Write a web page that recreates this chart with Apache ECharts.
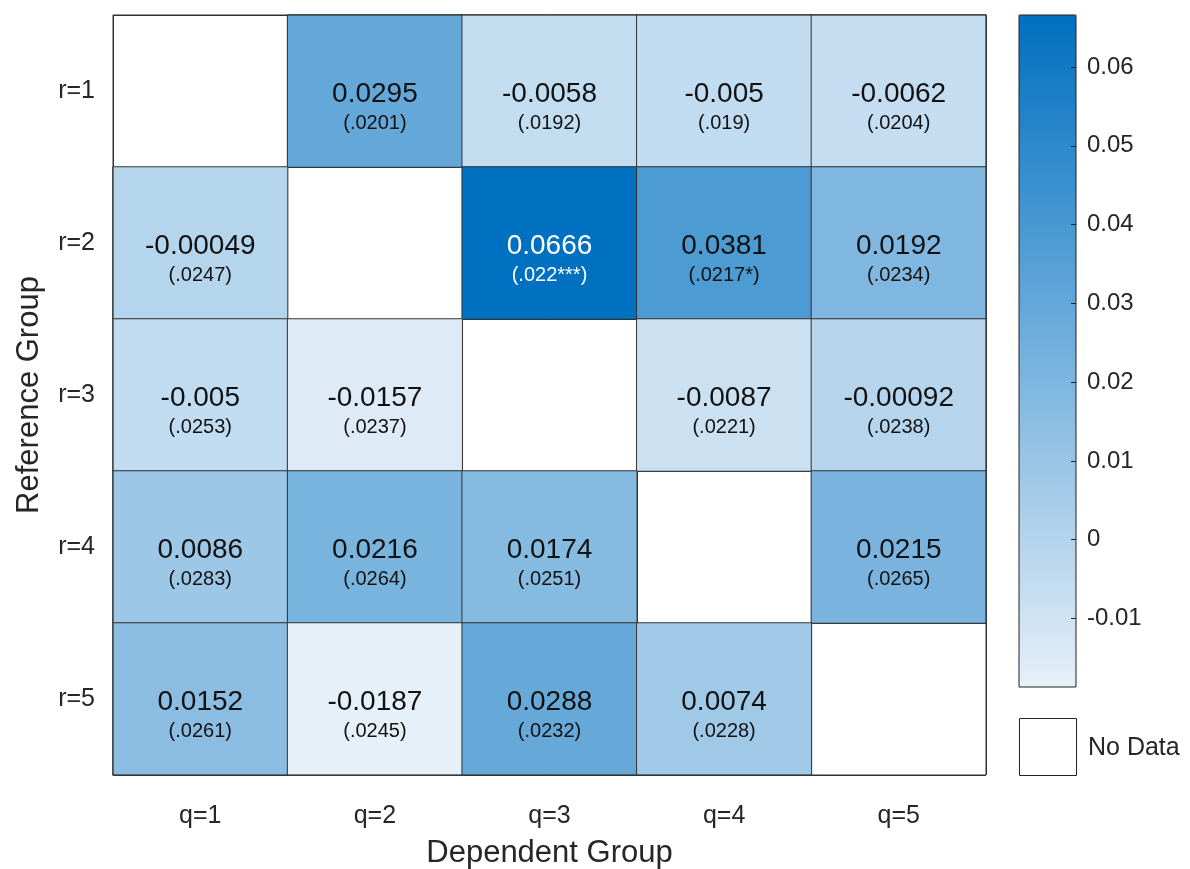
<!DOCTYPE html>
<html>
<head>
<meta charset="utf-8">
<title>Reference vs Dependent Group</title>
<script src="https://cdn.jsdelivr.net/npm/echarts@6/dist/echarts.min.js"></script>
<style>
  html, body { margin: 0; padding: 0; background: #fff; }
  #chart { width: 1190px; height: 869px; }
</style>
</head>
<body>
<div id="chart"></div>
<script>
// categories
const qLabels = ['q=1', 'q=2', 'q=3', 'q=4', 'q=5'];
const rLabels = ['r=1', 'r=2', 'r=3', 'r=4', 'r=5'];

// estimates, one array per reference group (null = no data on the diagonal)
const r1Est = [null, 0.0295, -0.0058, -0.005, -0.0062];
const r2Est = [-0.00049, null, 0.0666, 0.0381, 0.0192];
const r3Est = [-0.005, -0.0157, null, -0.0087, -0.00092];
const r4Est = [0.0086, 0.0216, 0.0174, null, 0.0215];
const r5Est = [0.0152, -0.0187, 0.0288, 0.0074, null];

// standard errors with significance stars, as printed
const r1Se = [null, '(.0201)', '(.0192)', '(.019)', '(.0204)'];
const r2Se = ['(.0247)', null, '(.022***)', '(.0217*)', '(.0234)'];
const r3Se = ['(.0253)', '(.0237)', null, '(.0221)', '(.0238)'];
const r4Se = ['(.0283)', '(.0264)', '(.0251)', null, '(.0265)'];
const r5Se = ['(.0261)', '(.0245)', '(.0232)', '(.0228)', null];

// colorbar range and tick labels
const colorMin = -0.0187;
const colorMax = 0.0666;
const cbTicks = [-0.01, 0, 0.01, 0.02, 0.03, 0.04, 0.05, 0.06];

const estRows = [r1Est, r2Est, r3Est, r4Est, r5Est];
const seRows = [r1Se, r2Se, r3Se, r4Se, r5Se];

const FONT = 'Liberation Sans, Arial, sans-serif';
const TXT = '#262626';

const cells = [];
estRows.forEach((row, ri) => {
  row.forEach((v, qi) => {
    if (v === null) return;
    cells.push({ value: [qi, ri, v], se: seRows[ri][qi] });
  });
});

const chart = echarts.init(document.getElementById('chart'));

chart.setOption({
  animation: false,
  backgroundColor: '#fff',
  grid: [
    { left: 113, top: 15, width: 873, height: 760, show: true, borderColor: '#333', borderWidth: 1, z: 3,
      outerBoundsMode: 'none', containLabel: false },
    { left: 1019, top: 15, width: 57, height: 672, show: true, borderColor: '#222', borderWidth: 1,
      backgroundColor: 'transparent', z: 10, outerBoundsMode: 'none', containLabel: false }
  ],
  xAxis: [
    {
      type: 'category', gridIndex: 0, data: qLabels,
      axisLine: { show: false }, axisTick: { show: false },
      splitLine: { show: true, interval: 0, lineStyle: { color: '#333', width: 1 } },
      axisLabel: { margin: 29, fontSize: 25, color: TXT, fontFamily: FONT },
      name: 'Dependent Group', nameLocation: 'middle', nameGap: 63,
      nameTextStyle: { fontSize: 31, color: TXT, fontFamily: FONT }
    },
    { type: 'value', gridIndex: 1, show: false, min: 0, max: 1, axisLine: { onZero: false } }
  ],
  yAxis: [
    {
      type: 'category', gridIndex: 0, data: rLabels, inverse: true,
      axisLine: { show: false }, axisTick: { show: false },
      splitLine: { show: true, interval: 0, lineStyle: { color: '#333', width: 1 } },
      axisLabel: { margin: 18, fontSize: 25, color: TXT, fontFamily: FONT },
      name: 'Reference Group', nameLocation: 'middle', nameGap: 68,
      nameTextStyle: { fontSize: 31, color: TXT, fontFamily: FONT }
    },
    {
      type: 'value', gridIndex: 1, position: 'right', min: colorMin, max: colorMax, z: 12,
      axisLine: { show: false, onZero: false },
      splitLine: { show: false },
      axisTick: { show: true, inside: true, length: 5, customValues: cbTicks, lineStyle: { color: '#222' } },
      axisLabel: {
        customValues: cbTicks, margin: 11, fontSize: 24, color: TXT, fontFamily: FONT,
        formatter: v => String(Math.round(v * 100) / 100)
      }
    }
  ],
  visualMap: {
    type: 'continuous', seriesIndex: 0, min: colorMin, max: colorMax,
    orient: 'vertical', left: 1019, top: 15, itemWidth: 57, itemHeight: 672,
    padding: 0, calculable: false, text: null, showLabel: false, hoverLink: false, z: 4,
    inRange: { color: ['#e6f0f9', '#0070c0'] }
  },
  graphic: [
    { type: 'rect', left: 1019, top: 718, shape: { width: 57, height: 57 },
      style: { fill: '#fff', stroke: '#222', lineWidth: 1 } },
    { type: 'text', left: 1088, top: 736,
      style: { text: 'No Data', fontSize: 25, fill: TXT, fontFamily: FONT } }
  ],
  series: [{
    type: 'heatmap',
    xAxisIndex: 0, yAxisIndex: 0,
    data: cells,
    itemStyle: { borderColor: '#333', borderWidth: 1 },
    label: {
      show: true,
      offset: [0, 17],
      formatter: p => {
        const v = p.value[2];
        const k = v > 0.05 ? 'w' : 'b';
        return '{' + k + 'v|' + String(v) + '}\n{' + k + 's|' + p.data.se + '}';
      },
      rich: {
        bv: { fontSize: 28, lineHeight: 30, color: '#111', fontFamily: FONT },
        bs: { fontSize: 20, lineHeight: 27, color: '#111', fontFamily: FONT },
        wv: { fontSize: 28, lineHeight: 30, color: '#fff', fontFamily: FONT },
        ws: { fontSize: 20, lineHeight: 27, color: '#fff', fontFamily: FONT }
      }
    },
    emphasis: { disabled: true }
  }]
});
</script>
</body>
</html>
